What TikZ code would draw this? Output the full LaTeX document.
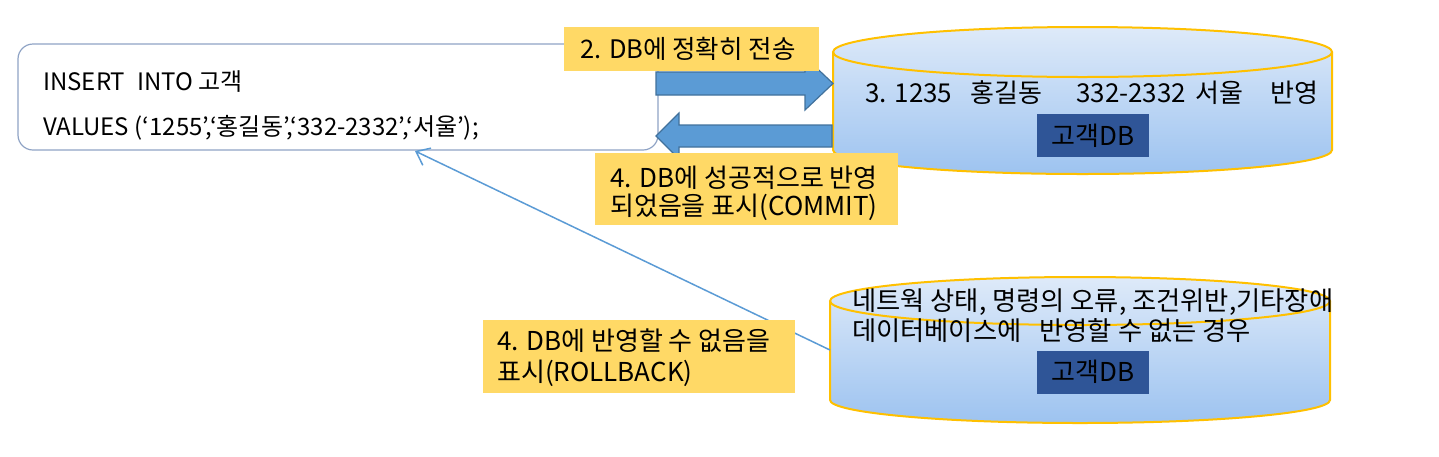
\documentclass[tikz,border=0pt]{standalone}
\usepackage{fontspec}
\setmainfont{Noto Sans CJK KR}
\usetikzlibrary{arrows.meta}
\definecolor{noteyellow}{HTML}{FFD966}
\definecolor{arrowblue}{HTML}{5B9BD5}
\definecolor{arrowedge}{HTML}{41719C}
\definecolor{dbgold}{HTML}{FFC000}
\definecolor{dbtop}{HTML}{DEEAF9}
\definecolor{dbbottom}{HTML}{9DC3F0}
\definecolor{dbname}{HTML}{2F5597}
\definecolor{sqledge}{HTML}{8FA3C5}

\begin{document}
\begin{tikzpicture}[x=1pt,y=-1pt,
    every node/.style={inner sep=0pt,font=\fontsize{26}{30}\selectfont},
    txt/.style={anchor=base west},
    notebox/.style={fill=noteyellow},
    dbnamebox/.style={fill=dbname,minimum width=112,minimum height=43},
    blockarrow/.style={fill=arrowblue,draw=arrowedge,line width=1.2},
    dbwall/.style={draw=dbgold,line width=2}]

      \useasboundingbox (0,0) rectangle (1439,456);

      % SQL statement
      \node[draw=sqledge,line width=1.2,rounded corners=15,
            minimum width=640,minimum height=106] (sql) at (338,97) {};
      \begin{scope}[every node/.append style={font=\fontsize{24}{30}\selectfont}]
        \node[txt] (ins) at (43,90)  {INSERT\hspace{12pt}INTO 고객};
        \node[txt] (val) at (43,135) {VALUES (‘1255’,‘홍길동’,‘332-2332’,‘서울’);};
      \end{scope}

      % upper database
      \shade[top color=dbtop,bottom color=dbbottom]
        (833,52) -- (833,150) arc (180:0:249.5 and 24)
        -- (1332,52) arc (0:-180:249.5 and 25) -- cycle;
      \draw[dbwall] (833,52) -- (833,150) arc (180:0:249.5 and 24) -- (1332,52);
      \draw[dbwall] (1082.5,52) ellipse (249.5 and 25);
      \node[txt] (row) at (865,102)
        {\makebox[105pt][l]{3. 1235}\makebox[106pt][l]{홍길동}%
         \makebox[119pt][l]{332-2332}\makebox[75pt][l]{서울}반영};
      \node[dbnamebox] (db1) at (1093,135.5) {고객DB};

      % lower database
      \shade[top color=dbtop,bottom color=dbbottom]
        (830,301) -- (830,400) arc (180:0:250 and 23)
        -- (1330,301) arc (0:-180:250 and 24) -- cycle;
      \draw[dbwall] (830,301) -- (830,400) arc (180:0:250 and 23) -- (1330,301);
      \draw[dbwall] (1080,301) ellipse (250 and 24);
      \coordinate (db2west) at (830,350);
      \begin{scope}[every node/.append style={font=\fontsize{26.3}{30}\selectfont}]
        \node[txt] (err1) at (852,310) {네트웍 상태, 명령의 오류, 조건위반,기타장애};
        \node[txt] (err2) at (852,340) {데이터베이스에\hspace{18pt}반영할 수 없는 경우};
      \end{scope}
      \node[dbnamebox] (db2) at (1093,372) {고객DB};

      % block arrows
      \filldraw[blockarrow] (656,72) -- (805,72) -- (805,57) -- (833,83.5)
        -- (805,110) -- (805,95) -- (656,95) -- cycle;
      \filldraw[blockarrow] (832,125) -- (679,125) -- (679,113) -- (656,136)
        -- (679,159) -- (679,147) -- (832,147) -- cycle;

      % rollback line
      \coordinate (sqlhit) at (415,151);
      \draw[arrowblue,line width=1.5,-{Straight Barb[length=12,width=19]}] (db2west) -- (sqlhit);

      % notes
      \begin{scope}[every node/.append style={notebox}]
        \node[minimum width=255,minimum height=44] (send)   at (691.5,49) {};
        \node[minimum width=303,minimum height=72] (commit) at (746.5,189) {};
        \node[minimum width=312,minimum height=73] (undo)   at (639,356.5) {};
      \end{scope}
      \node[txt,font=\fontsize{25.5}{30}\selectfont] at (580,58) {2. DB에 정확히 전송};
      \node[txt] at (610,187) {4. DB에 성공적으로 반영};
      \node[txt] at (610,215) {되었음을 표시(COMMIT)};
      \node[txt] at (497,350) {4. DB에 반영할 수 없음을};
      \node[txt] at (497,381) {표시(ROLLBACK)};

    \end{tikzpicture}
\end{document}
